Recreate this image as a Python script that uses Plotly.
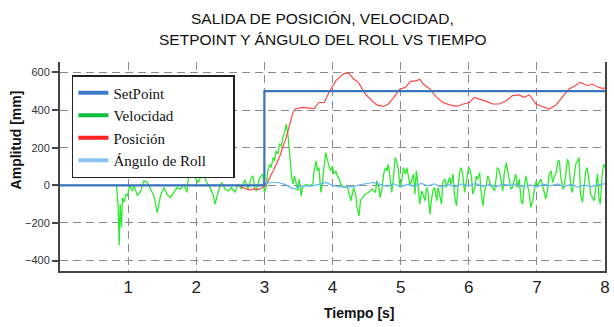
import plotly.graph_objects as go

# ---------------- data ----------------
setpoint_t = [0, 3.0, 3.0, 8.0]
setpoint_v = [0, 0, 500, 500]

velocity_t = [0, 0.82, 0.83, 0.854, 0.869, 0.883, 0.903, 0.917, 0.942, 0.966, 0.99, 1.025, 1.063, 1.087,
              1.136, 1.185, 1.233, 1.281, 1.33, 1.378, 1.427, 1.476, 1.524, 1.572, 1.621, 1.67, 1.718,
              1.767, 1.815, 1.864, 1.888, 1.91, 1.985, 2.033, 2.08, 2.106, 2.154, 2.203, 2.252, 2.276,
              2.325, 2.373, 2.422, 2.47, 2.518, 2.567, 2.616, 2.664, 2.713, 2.761, 2.809, 2.834, 2.858,
              2.882, 2.93, 2.98, 3.00, 3.03, 3.05, 3.08, 3.10, 3.13, 3.15, 3.17, 3.20, 3.22, 3.25, 3.27,
              3.30, 3.32, 3.33, 3.35, 3.38, 3.40, 3.42, 3.44, 3.46, 3.49, 3.51, 3.54, 3.56, 3.61, 3.66,
              3.71, 3.73, 3.76, 3.78, 3.80, 3.83, 3.85, 3.88, 3.90, 3.93, 3.95, 3.97, 4.00, 4.02, 4.05,
              4.07, 4.10, 4.12, 4.17, 4.22, 4.24, 4.27, 4.29, 4.31, 4.34, 4.36, 4.39, 4.41, 4.44, 4.48,
              4.53, 4.58, 4.63, 4.65, 4.68, 4.70, 4.73, 4.75, 4.78, 4.80, 4.82, 4.85, 4.87, 4.90, 4.92,
              4.94, 4.97, 4.99, 5.02, 5.04, 5.07, 5.09, 5.11, 5.14, 5.16, 5.19, 5.21, 5.23, 5.26, 5.28,
              5.31, 5.33, 5.36, 5.38, 5.40, 5.43, 5.45, 5.48, 5.50, 5.53, 5.55, 5.57, 5.60, 5.62, 5.65,
              5.67, 5.70, 5.72, 5.74, 5.77, 5.79, 5.82, 5.84, 5.87, 5.89, 5.91, 5.94, 5.96, 5.99, 6.01,
              6.04, 6.06, 6.09, 6.11, 6.13, 6.16, 6.18, 6.21, 6.23, 6.26, 6.28, 6.33, 6.38, 6.42, 6.45,
              6.50, 6.52, 6.55, 6.57, 6.60, 6.62, 6.64, 6.67, 6.69, 6.72, 6.74, 6.77, 6.79, 6.81, 6.84,
              6.86, 6.89, 6.91, 6.94, 6.96, 6.99, 7.01, 7.04, 7.06, 7.08, 7.11, 7.13, 7.16, 7.18, 7.21,
              7.23, 7.26, 7.28, 7.31, 7.33, 7.35, 7.38, 7.40, 7.42, 7.45, 7.47, 7.50, 7.52, 7.55, 7.57,
              7.60, 7.62, 7.64, 7.67, 7.69, 7.72, 7.74, 7.76, 7.79, 7.84, 7.86, 7.89, 7.91, 7.93, 7.96,
              7.98, 8.00]
velocity_v = [0, 0, 0, -117, -318, -100, -225, -65, -90, -48, -55, 0, -30, 0,
              -55, -30, 25, 15, -20, -55, -145, -55, -12, -48, -65, -38, -12,
              -20, 6, -38, 60, 77, 40, 15, 61, 60, 15, -12, -55, -100,
              -30, 15, -20, -30, -12, -38, 6, -20, 30, -20, 40, 50, -12,
              -30, 40, 60, -38, -3, 77, 112, 94, 148, 130, 183, 165, 218, 210, 254,
              281, 325, 307, 254, 130, 42, 6, 50, 24, -30, 33, -56, -12, 6, -3,
              6, 77, 130, 77, 94, -38, 6, 112, 174, 130, 94, 77, 103, 60, 77,
              50, 33, 6, -12, -8, -38, -82, -47, -12, -47, -118, -162, -82, -65, -47,
              -38, -20, -38, 24, -12, -65, -12, 60, 94, 77, 112, 24, -38, 60, 148,
              130, 77, -12, 33, 94, 60, 94, 50, -3, 24, 60, -47, 77, -12, -100,
              -30, -47, -82, -12, -30, -153, -82, -20, -12, -82, -12, -47, -100, 15, 33,
              -12, 24, 42, 6, 60, -47, -109, -12, 77, 94, 60, -38, 6, 77, 94,
              42, -47, -12, 50, 33, 68, -30, -109, -38, 6, 50, -3, -30, 94, 77,
              -30, 60, 121, 77, 6, -20, -12, 33, 60, -12, 33, -82, -100, -12, 50,
              6, -47, -118, -82, -30, 24, -3, 24, 33, 6, -47, -74, -12, 60, 77,
              15, 50, 60, 130, 130, 50, -20, -12, 60, 139, 112, -12, -38, 42, 112,
              130, 148, -47, -91, -12, 77, 94, 42, -47, -82, -12, 60, -65, -100, 60,
              112, 94]

position_t = [2.64, 2.70, 2.78, 2.84, 2.92, 2.98, 3.03, 3.13, 3.22, 3.32, 3.37, 3.42, 3.46, 3.56,
              3.73, 3.80, 3.88, 3.95, 4.05, 4.17, 4.24, 4.31, 4.38, 4.48, 4.58, 4.65, 4.75, 4.82,
              4.90, 4.99, 5.07, 5.14, 5.24, 5.28, 5.33, 5.43, 5.53, 5.62, 5.72, 5.82, 5.92, 6.01,
              6.08, 6.16, 6.26, 6.35, 6.45, 6.55, 6.64, 6.74, 6.81, 6.89, 6.99, 7.08, 7.18, 7.28,
              7.37, 7.47, 7.56, 7.64, 7.74, 7.81, 7.91, 7.98, 8.00]
position_v = [-5, -15, -25, -19, -22, -10, 6, 77, 148, 254, 326, 387, 407, 414,
              408, 440, 440, 494, 556, 595, 595, 565, 547, 485, 449, 427, 419, 432,
              467, 512, 520, 551, 556, 565, 538, 512, 467, 440, 427, 419, 432, 440,
              467, 459, 446, 432, 432, 449, 476, 480, 467, 480, 432, 419, 405, 427,
              467, 512, 529, 547, 529, 538, 520, 512, 520]

roll_t = [0, 2.9, 3.0, 3.1, 3.2, 3.3, 3.4, 3.45, 3.5, 3.6, 3.7, 3.8, 3.9, 4.0, 4.1, 4.2, 4.3, 4.4,
          4.5, 4.6, 4.7, 4.8, 4.9, 5.0, 5.1, 5.2, 5.3, 5.4, 5.5, 5.6, 5.7, 5.8, 5.9, 6.0, 6.1,
          6.2, 6.3, 6.4, 6.5, 6.6, 6.7, 6.8, 6.9, 7.0, 7.1, 7.2, 7.3, 7.4, 7.5, 7.6, 7.7, 7.8,
          7.9, 8.0]
roll_v = [0, 0, 8, 15, 15, 5, -15, -20, -5, -3, -3, 5, 15, 0, -8, -8, -8, 3, 10, 15, 5, -5, 8,
          -8, 5, -5, 10, -3, 8, -10, 5, -8, 8, -3, 10, -5, 5, -8, 6, 0, 8, -10, 3, -8, 6, -3,
          8, -6, 5, -10, 3, -8, 5, 8]

legend_names = ["SetPoint", "Velocidad", "Posición", "Ángulo de Roll\u00a0\u00a0\u00a0\u00a0\u00a0\u00a0"]
legend_colors = ["#3E7BC8", "#10C040", "#FF2020", "#8CC4F0"]

title_lines = ["SALIDA DE POSICIÓN, VELOCIDAD,", "SETPOINT Y ÁNGULO DEL ROLL VS TIEMPO"]
x_title = "Tiempo [s]"
y_title = "Amplitud [mm]"
x_ticks = [1, 2, 3, 4, 5, 6, 7, 8]
y_ticks = [-400, -200, 0, 200, 400, 600]

# ---------------- figure ----------------
W, H = 614, 327
L, R, T, B = 60, 4, 62, 56
pw, ph = W - L - R, H - T - B


def px_to_paper(px, py):
    return (px - L) / pw, (H - B - py) / ph


fig = go.Figure()

for name, col in zip(legend_names, legend_colors):
    fig.add_trace(go.Scatter(x=[None], y=[None], mode="lines", name=name,
                             line=dict(color=col, width=4), showlegend=True))

fig.add_trace(go.Scatter(x=velocity_t, y=velocity_v, mode="lines", showlegend=False,
                         line=dict(color="#2EEA2E", width=1.3)))
fig.add_trace(go.Scatter(x=position_t, y=position_v, mode="lines", showlegend=False,
                         line=dict(color="#FF4848", width=1.2)))
fig.add_trace(go.Scatter(x=roll_t, y=roll_v, mode="lines", showlegend=False,
                         line=dict(color="#5CB8FF", width=1.2)))
fig.add_trace(go.Scatter(x=setpoint_t, y=setpoint_v, mode="lines", showlegend=False,
                         line=dict(color="#3A74BC", width=2.2)))

grid_common = dict(showgrid=True, gridcolor="#8A8A8A", gridwidth=1.2, griddash="8px,5px",
                   zeroline=False)
sans = "Liberation Sans, Arial, sans-serif"

annotations = []
for line, cy in zip(title_lines, [18.5, 39]):
    ax, ay = px_to_paper(325, cy)
    annotations.append(dict(text=line, x=ax, y=ay, xref="paper", yref="paper",
                            xanchor="center", yanchor="middle", showarrow=False,
                            font=dict(family=sans, size=15.5, color="#111")))
ax, ay = px_to_paper(16, 140)
annotations.append(dict(text="<b>" + y_title + "</b>", x=ax, y=ay, xref="paper", yref="paper",
                        xanchor="center", yanchor="middle", showarrow=False, textangle=-90,
                        font=dict(family=sans, size=14, color="#111")))
ax, ay = px_to_paper(362, 313)
annotations.append(dict(text="<b>" + x_title + "</b>", x=ax, y=ay, xref="paper", yref="paper",
                        xanchor="center", yanchor="middle", showarrow=False,
                        font=dict(family=sans, size=14, color="#111")))

lx, ly = px_to_paper(72, 75)
fig.update_layout(
    width=W, height=H,
    margin=dict(l=L, r=R, t=T, b=B),
    paper_bgcolor="white", plot_bgcolor="white",
    annotations=annotations,
    xaxis=dict(range=[0, 8], tickvals=x_ticks, ticks="",
               showline=True, linecolor="#444", linewidth=2, mirror=False,
               tickfont=dict(family=sans, size=17, color="#222"),
               **grid_common),
    yaxis=dict(range=[-455, 655], tickvals=y_ticks,
               ticks="outside", ticklen=6, tickcolor="#444", tickwidth=1.5,
               showline=True, linecolor="#444", linewidth=2, mirror=True,
               tickfont=dict(family=sans, size=11, color="#333"),
               **grid_common),
    legend=dict(x=lx, y=ly, xanchor="left", yanchor="top",
                bgcolor="white", bordercolor="#222", borderwidth=1.5,
                font=dict(family="Liberation Serif, Times New Roman, serif", size=15, color="#111"),
                itemwidth=30, tracegroupgap=0),
)

fig.write_html("out.html", config={"displayModeBar": False},
               post_script="document.body.style.margin='0';")
